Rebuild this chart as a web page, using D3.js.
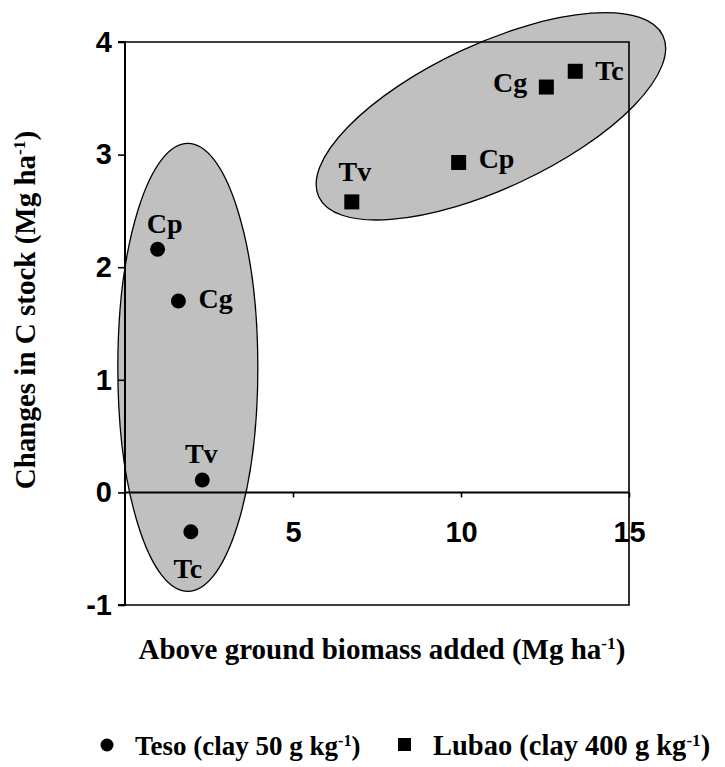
<!DOCTYPE html>
<html>
<head>
<meta charset="utf-8">
<script src="https://cdn.jsdelivr.net/npm/d3@7"></script>
<style>
  body { margin: 0; background: #fff; }
  .tick text { font-family: Arial, "Liberation Sans", sans-serif; font-weight: bold; font-size: 29px; fill: #000; }
  .serif { font-family: "Times New Roman", "Liberation Serif", serif; font-weight: bold; fill: #000; }
</style>
</head>
<body>
<div class="chart"></div>
<script>
// data
var tesoNames = ["Cp", "Cg", "Tv", "Tc"];
var tesoX = [0.97, 1.59, 2.30, 1.96];
var tesoY = [2.16, 1.70, 0.11, -0.35];

var lubaoNames = ["Tv", "Cp", "Cg", "Tc"];
var lubaoX = [6.75, 9.93, 12.54, 13.40];
var lubaoY = [2.58, 2.93, 3.60, 3.74];

// grouping ellipses (centre in data units)
var groupCx = [1.87, 10.89];
var groupCy = [1.11, 3.34];

var xTicks = [5, 10, 15];
var yTicks = [-1, 0, 1, 2, 3, 4];

var svgWidth = 725;
var svgHeight = 767;

var svg = d3.select(".chart")
  .append("svg")
  .attr("width", svgWidth)
  .attr("height", svgHeight);

var x = d3.scaleLinear().domain([0, 15]).range([125, 629]);
var y = d3.scaleLinear().domain([-1, 4]).range([605, 42]);

// ellipse shapes (pixels)
var ellStyle = [
  { rx: 70, ry: 224, rot: 0 },
  { rx: 190, ry: 72, rot: -25.1 }
];

svg.selectAll(".group")
  .data(groupCx)
  .enter()
  .append("ellipse")
  .attr("class", "group")
  .attr("cx", 0)
  .attr("cy", 0)
  .attr("rx", (d, i) => ellStyle[i].rx)
  .attr("ry", (d, i) => ellStyle[i].ry)
  .attr("transform", (d, i) => `translate(${x(d)},${y(groupCy[i])}) rotate(${ellStyle[i].rot})`)
  .attr("fill", "#c0c0c0")
  .attr("stroke", "#000")
  .attr("stroke-width", 1.3);

// frame (top, right, bottom)
svg.append("path")
  .attr("d", `M${x(0)},${y(4)}H${x(15)}V${y(-1)}H${x(0)}`)
  .attr("fill", "none")
  .attr("stroke", "#000")
  .attr("stroke-width", 1.6);

// axes
var leftAxis = d3.axisLeft(y).tickValues(yTicks).tickSize(7).tickPadding(6).tickFormat(d => String(d));
var bottomAxis = d3.axisBottom(x).tickValues(xTicks).tickSize(5).tickPadding(24).tickFormat(d => String(d));

var gy = svg.append("g")
  .attr("transform", `translate(${x(0)},0)`)
  .call(leftAxis);

var gx = svg.append("g")
  .attr("transform", `translate(0,${y(0)})`)
  .call(bottomAxis);

[gx, gy].forEach(function(g) {
  g.select(".domain").attr("stroke-width", 2).attr("stroke", "#000");
  g.selectAll(".tick line").attr("stroke-width", 1.6).attr("stroke", "#000");
  g.selectAll(".tick text").attr("font-family", null).attr("font-size", null);
});
gy.select(".domain").attr("d", `M${-7},${y(4)}H0V${y(-1)}H-7`);
gx.select(".domain").attr("d", `M${x(0)},0H${x(15)}`);

// Teso circles
svg.selectAll(".teso")
  .data(tesoX)
  .enter()
  .append("circle")
  .attr("class", "teso")
  .attr("cx", d => x(d))
  .attr("cy", (d, i) => y(tesoY[i]))
  .attr("r", 7.5)
  .attr("fill", "#000");

// Lubao squares
var sq = 15;
svg.selectAll(".lubao")
  .data(lubaoX)
  .enter()
  .append("rect")
  .attr("class", "lubao")
  .attr("x", d => x(d) - sq / 2)
  .attr("y", (d, i) => y(lubaoY[i]) - sq / 2)
  .attr("width", sq)
  .attr("height", sq)
  .attr("fill", "#000");

// point labels: [dx, dy, anchor]
var tesoLab = [[7, -16, "middle"], [20, 7, "start"], [-1, -17, "middle"], [-3, 46, "middle"]];
var lubaoLab = [[3, -21, "middle"], [20, 6, "start"], [-19, 5, "end"], [20, 9, "start"]];

svg.selectAll(".tesoLabel")
  .data(tesoNames)
  .enter()
  .append("text")
  .attr("class", "serif tesoLabel")
  .attr("font-size", "28px")
  .attr("x", (d, i) => x(tesoX[i]) + tesoLab[i][0])
  .attr("y", (d, i) => y(tesoY[i]) + tesoLab[i][1])
  .attr("text-anchor", (d, i) => tesoLab[i][2])
  .text(d => d);

svg.selectAll(".lubaoLabel")
  .data(lubaoNames)
  .enter()
  .append("text")
  .attr("class", "serif lubaoLabel")
  .attr("font-size", "28px")
  .attr("x", (d, i) => x(lubaoX[i]) + lubaoLab[i][0])
  .attr("y", (d, i) => y(lubaoY[i]) + lubaoLab[i][1])
  .attr("text-anchor", (d, i) => lubaoLab[i][2])
  .text(d => d);

// helper for "... ha-1)" style text with superscript
function supText(sel, before, sup, after) {
  sel.append("tspan").text(before);
  sel.append("tspan").attr("font-size", "0.6em").attr("baseline-shift", "super").text(sup);
  sel.append("tspan").text(after);
}

// axis titles
var xt = svg.append("text")
  .attr("class", "serif")
  .attr("font-size", "29px")
  .attr("text-anchor", "middle")
  .attr("x", 382)
  .attr("y", 659);
supText(xt, "Above ground biomass added (Mg ha", "-1", ")");

var yt = svg.append("text")
  .attr("class", "serif")
  .attr("font-size", "29px")
  .attr("text-anchor", "middle")
  .attr("transform", "translate(35,310) rotate(-90)");
supText(yt, "Changes in C stock (Mg ha", "-1", ")");

// legend
svg.append("circle")
  .attr("cx", 107).attr("cy", 745).attr("r", 6.5).attr("fill", "#000");
var l1 = svg.append("text")
  .attr("class", "serif").attr("font-size", "27px")
  .attr("x", 135).attr("y", 755);
supText(l1, "Teso (clay 50 g kg", "-1", ")");

svg.append("rect")
  .attr("x", 398).attr("y", 738).attr("width", 13).attr("height", 13).attr("fill", "#000");
var l2 = svg.append("text")
  .attr("class", "serif").attr("font-size", "28.5px")
  .attr("x", 433).attr("y", 755);
supText(l2, "Lubao (clay 400 g kg", "-1", ")");
</script>
</body>
</html>
